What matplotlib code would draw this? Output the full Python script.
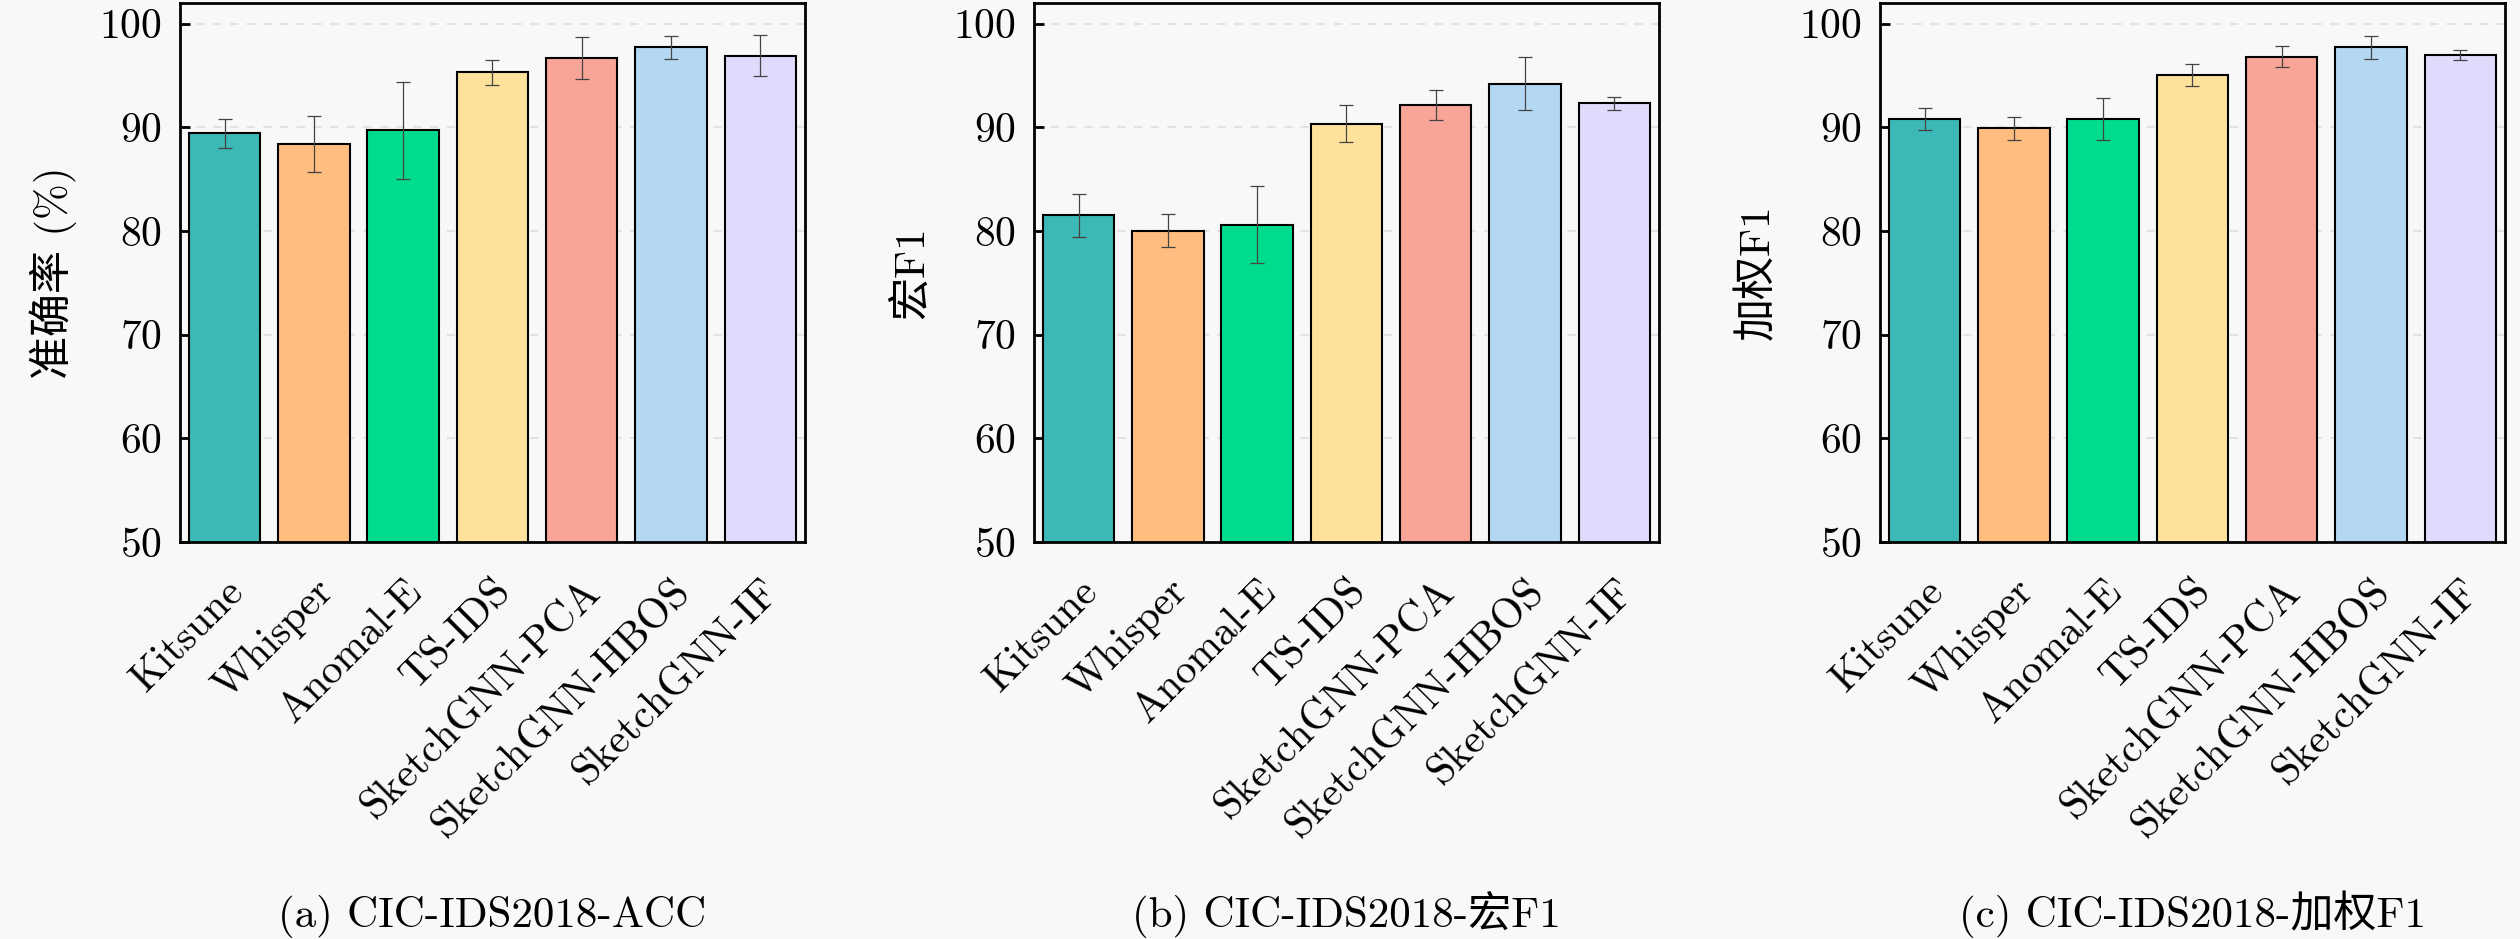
import numpy as np
import matplotlib
matplotlib.use('Agg')
import matplotlib.pyplot as plt

plt.rcParams['font.family'] = ['cmr10', 'Noto Sans CJK SC']
plt.rcParams['axes.formatter.use_mathtext'] = True

methods = ['Kitsune', 'Whisper', 'Anomal-E', 'TS-IDS',
           'SketchGNN-PCA', 'SketchGNN-HBOS', 'SketchGNN-IF']
colors = ['#3cb8b6', '#ffbe80', '#00dc8e', '#fee19b',
          '#f8a497', '#b4d7f2', '#e0dafc']

acc = [89.4, 88.4, 89.7, 95.3, 96.7, 97.7, 96.9]
acc_err = [1.4, 2.7, 4.7, 1.2, 2.05, 1.1, 2.0]

macro_f1 = [81.5, 80.0, 80.6, 90.35, 92.1, 94.2, 92.3]
macro_err = [2.1, 1.6, 3.75, 1.75, 1.45, 2.55, 0.6]

weighted_f1 = [90.8, 89.9, 90.8, 95.05, 96.8, 97.7, 96.95]
weighted_err = [1.05, 1.1, 2.0, 1.05, 1.0, 1.1, 0.45]

panels = [
    (acc, acc_err, '准确率 (%)', '(a) CIC-IDS2018-ACC'),
    (macro_f1, macro_err, '宏F1', '(b) CIC-IDS2018-宏F1'),
    (weighted_f1, weighted_err, '加权F1', '(c) CIC-IDS2018-加权F1'),
]

bg = '#f8f8f8'
fig = plt.figure(figsize=(25.2, 9.39), dpi=100, facecolor=bg)
lefts = [0.0714, 0.4103, 0.746]
x = np.arange(len(methods))

for left, (vals, errs, ylab, sub) in zip(lefts, panels):
    ax = fig.add_axes([left, 0.423, 0.248, 0.574])
    ax.set_facecolor(bg)
    ax.set_axisbelow(True)
    ax.yaxis.grid(True, linestyle=(0, (4, 4)), color='#e2e2e2', linewidth=1.5)
    ax.bar(x, vals, width=0.8, color=colors, edgecolor='black', linewidth=1.5,
           yerr=errs, error_kw=dict(ecolor='#444444', elinewidth=0.9,
                                    capsize=5, capthick=0.9))
    ax.set_xlim(-0.5, 6.5)
    ax.set_ylim(50, 102)
    ax.set_yticks([50, 60, 70, 80, 90, 100])
    ax.set_xticks(x)
    ax.set_xticklabels(methods, rotation=45, ha='right', rotation_mode='anchor')
    ax.tick_params(axis='both', direction='in', labelsize=30, width=2)
    ax.tick_params(axis='y', length=7, pad=13)
    ax.tick_params(axis='x', length=5, pad=22)
    for sp in ax.spines.values():
        sp.set_linewidth(2)
    ax.set_ylabel(ylab, fontsize=31, labelpad=16)
    fig.text(left + 0.124, 0.0128, sub, fontsize=31, ha='center', va='baseline')

fig.savefig('out.png', dpi=100, facecolor=bg)
